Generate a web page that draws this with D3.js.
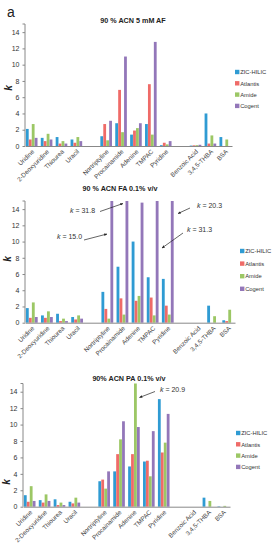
<!DOCTYPE html>
<html>
<head>
<meta charset="utf-8">
<script src="https://cdn.jsdelivr.net/npm/d3@7"></script>
<style>
  body { margin: 0; background: #fff; }
  svg { display: block; font-family: "Liberation Sans", Arial, sans-serif; }
</style>
</head>
<body>
<svg id="chart"></svg>
<script>
const width = 272, height = 543;

// categories (blank slots are gaps on the x axis)
const categories = ['Uridine', '2-Deoxyuridine', 'Thiourea', 'Uracil', ' ',
  'Nortriptyline', 'Procainamide', 'Adenine', 'TMPAC', 'Pyridine', '  ',
  'Benzoic Acid', '3,4,5-THBA', 'BSA'];
const series = ['ZIC-HILIC', 'Atlantis', 'Amide', 'Cogent'];
const yTicks = [0, 2, 4, 6, 8, 10, 12, 14];

// k values per series, one entry per category (null = gap)
const afZic      = [2.1, 1.0, 1.1, 0.8, null, 1.2, 2.8, 1.4, 2.7, 0.1, null, 0.05, 4.0, 1.1];
const afAtlantis = [0.8, 0.6, 0.3, 0.4, null, 2.7, 6.9, 1.9, 7.6, 0.4, null, 0.08, 0.3, 0];
const afAmide    = [2.7, 1.5, 0.6, 1.1, null, 0.7, 1.7, 2.2, 1.4, 0.2, null, 0.1, 1.3, 0.8];
const afCogent   = [1.0, 0.8, 0.3, 0.6, null, 3.1, 11.0, 2.8, 12.8, 0.6, null, 0.15, 0.3, 0];

const faZic      = [1.8, 0.9, 1.1, 0.7, null, 3.8, 6.9, 10.0, 5.6, 5.4, null, 0, 2.1, 0.3];
const faAtlantis = [0.6, 0.6, 0.2, 0.4, null, 1.7, 3.0, 2.7, 3.1, 2.1, null, 0, 0, 0.2];
const faAmide    = [2.5, 1.4, 0.5, 0.9, null, 0.5, 1.0, 3.3, 0.9, 1.0, null, 0, 0.8, 1.6];
const faCogent   = [0.7, 0.7, 0.2, 0.5, null, 15.0, 31.8, 14.8, 31.3, 20.3, null, 0, 0, 0];

const paZic      = [1.4, 0.8, 0.9, 0.6, null, 3.1, 4.3, 4.9, 5.5, 13.1, null, 0, 1.1, 0.05];
const paAtlantis = [0.6, 0.5, 0.2, 0.4, null, 3.3, 6.4, 6.4, 5.6, 6.6, null, 0, 0, 0];
const paAmide    = [2.5, 1.5, 0.5, 1.1, null, 2.2, 8.2, 20.9, 3.7, 7.8, null, 0, 0.7, 0.1];
const paCogent   = [0.7, 0.7, 0.2, 0.5, null, 4.3, 10.4, 9.7, 9.2, 11.3, null, 0, 0, 0];

const titles = ['90 % ACN 5 mM AF', '90 % ACN FA 0.1% v/v', '90% ACN PA 0.1% v/v'];

// off-scale bars called out with arrows
const faNotes = [
  { text: '31.8', tx: 70, ty: 213, ax: 100, ay: 211.5, bx: 123, by: 203.5 },
  { text: '15.0', tx: 57, ty: 239, ax: 84, ay: 240, bx: 107, by: 234 },
  { text: '20.3', tx: 197, ty: 208, ax: 190, ay: 208, bx: 178, by: 213.5 },
  { text: '31.3', tx: 187, ty: 232, ax: 183, ay: 233, bx: 162, by: 248 }
];
const paNotes = [
  { text: '20.9', tx: 160, ty: 392, ax: 155, ay: 391.5, bx: 139.5, by: 397.5 }
];

const color = d3.scaleOrdinal().domain(series)
  .range(['#2f9bd3', '#ef6b68', '#9cc765', '#9377b9']);

const panels = [
  { title: titles[0], values: [afZic, afAtlantis, afAmide, afCogent], notes: [],
    x0: 25, x1: 232, y0: 146, yTop: 24, titleX: 133, titleY: 23,
    kX: 12, kY: 88, legX: 235, legY: 72, legStep: 11.3 },
  { title: titles[1], values: [faZic, faAtlantis, faAmide, faCogent], notes: faNotes,
    x0: 25, x1: 235, y0: 322.7, yTop: 201, titleX: 120, titleY: 191,
    kX: 11, kY: 259, legX: 240, legY: 251, legStep: 12.6 },
  { title: titles[2], values: [paZic, paAtlantis, paAmide, paCogent], notes: paNotes,
    x0: 23, x1: 230, y0: 506.7, yTop: 383.5, titleX: 129, titleY: 381,
    kX: 10, kY: 482, legX: 236, legY: 433, legStep: 11.3 }
];

const svg = d3.select('#chart')
  .attr('width', width)
  .attr('height', height)
  .attr('viewBox', [0, 0, width, height]);

svg.append('defs').append('marker')
  .attr('id', 'arrow')
  .attr('viewBox', '0 0 10 10')
  .attr('refX', 9).attr('refY', 5)
  .attr('markerWidth', 4.5).attr('markerHeight', 4.5)
  .attr('orient', 'auto')
  .append('path')
  .attr('d', 'M0,1 L10,5 L0,9 Z')
  .attr('fill', '#222');

svg.append('text')
  .attr('x', 7).attr('y', 17)
  .attr('font-size', 14)
  .attr('fill', '#222')
  .text('a');

panels.forEach((p) => {
  const g = svg.append('g');

  const x = d3.scaleBand().domain(categories).range([p.x0, p.x1]).paddingInner(0.2).paddingOuter(0.05);
  const xs = d3.scaleBand().domain(series).range([0, x.bandwidth()]).padding(0.05);
  const y = d3.scaleLinear().domain([0, 15]).range([p.y0, p.yTop]);

  // title
  g.append('text')
    .attr('x', p.titleX).attr('y', p.titleY)
    .attr('text-anchor', 'middle')
    .attr('font-size', 7.2)
    .attr('font-weight', 'bold')
    .attr('fill', '#222')
    .text(p.title);

  // bars
  const rows = [];
  categories.forEach((c, i) => {
    series.forEach((s, j) => {
      const v = p.values[j][i];
      if (v !== null) rows.push({ c, s, v });
    });
  });
  g.append('g').selectAll('rect')
    .data(rows)
    .join('rect')
    .attr('x', (d) => x(d.c) + xs(d.s))
    .attr('width', xs.bandwidth())
    .attr('y', (d) => y(Math.min(d.v, 15)))
    .attr('height', (d) => y(0) - y(Math.min(d.v, 15)))
    .attr('fill', (d) => color(d.s));

  // y axis
  const ya = g.append('g')
    .attr('transform', `translate(${p.x0},0)`)
    .call(d3.axisLeft(y).tickValues(yTicks).tickSize(2.5).tickPadding(3));
  ya.select('.domain').attr('stroke', '#888').attr('d', `M-2.5,${y(15)}H0V${y(0)}`);
  ya.selectAll('.tick line').attr('stroke', '#888');
  ya.selectAll('.tick text').attr('font-size', 7).attr('fill', '#333')
    .attr('font-family', '"Liberation Sans", Arial, sans-serif');

  // x axis
  const xa = g.append('g')
    .attr('transform', `translate(0,${p.y0})`)
    .call(d3.axisBottom(x).tickSize(0).tickPadding(0));
  xa.select('.domain').attr('stroke', '#888');
  xa.selectAll('.tick text')
    .attr('font-size', 6.3)
    .attr('fill', '#444')
    .attr('font-family', '"Liberation Sans", Arial, sans-serif')
    .attr('text-anchor', 'end')
    .attr('dy', 0)
    .attr('transform', 'translate(3,6) rotate(-45)');

  // y label
  g.append('text')
    .attr('transform', `translate(${p.kX},${p.kY}) rotate(-90)`)
    .attr('text-anchor', 'middle')
    .attr('font-size', 10)
    .attr('font-style', 'italic')
    .attr('font-weight', 'bold')
    .attr('fill', '#222')
    .text('k');

  // legend
  const leg = g.append('g').selectAll('g')
    .data(series)
    .join('g')
    .attr('transform', (d, i) => `translate(${p.legX},${p.legY + i * p.legStep})`);
  leg.append('rect')
    .attr('x', 0).attr('y', -2.2)
    .attr('width', 4.4).attr('height', 4.4)
    .attr('fill', (d) => color(d));
  leg.append('text')
    .attr('x', 5.2).attr('y', 2.2)
    .attr('font-size', 5.8)
    .attr('fill', '#333')
    .text((d) => d);

  // call-outs
  p.notes.forEach((n) => {
    const t = g.append('text')
      .attr('x', n.tx).attr('y', n.ty)
      .attr('font-size', 7)
      .attr('fill', '#333');
    t.append('tspan').attr('font-style', 'italic').text('k');
    t.append('tspan').text(' = ' + n.text);
    g.append('line')
      .attr('x1', n.ax).attr('y1', n.ay)
      .attr('x2', n.bx).attr('y2', n.by)
      .attr('stroke', '#222')
      .attr('stroke-width', 0.7)
      .attr('marker-end', 'url(#arrow)');
  });
});
</script>
</body>
</html>
